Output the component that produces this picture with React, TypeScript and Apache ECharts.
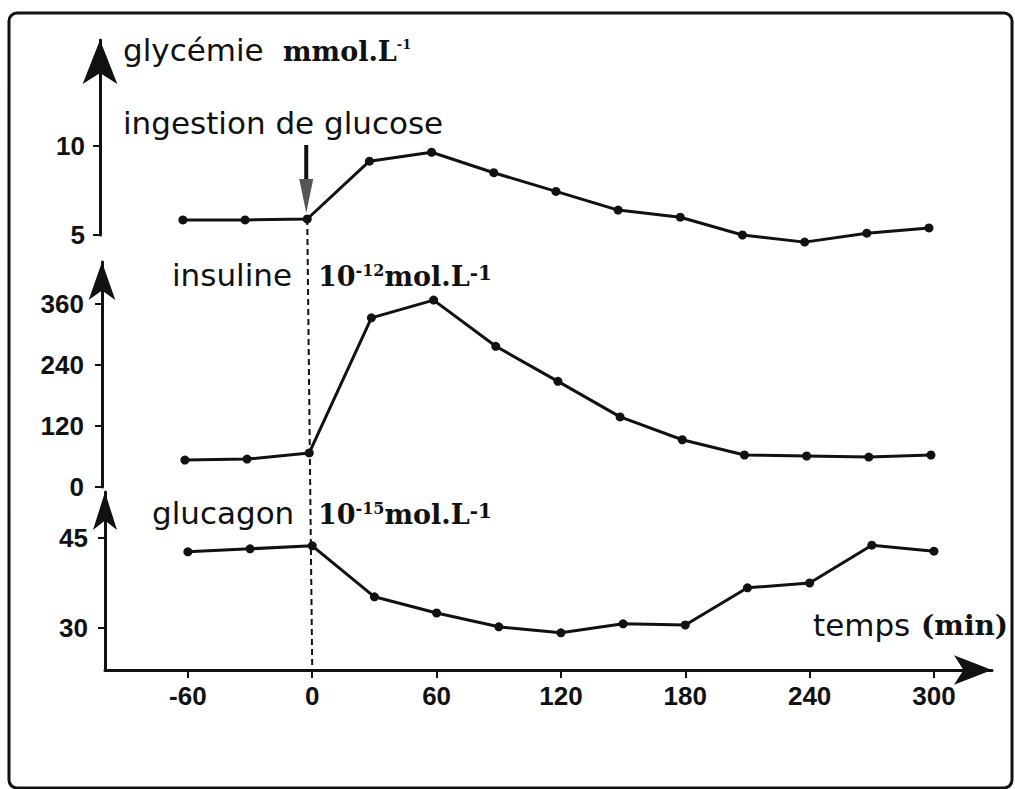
import React, { useEffect, useRef } from 'react';
import * as echarts from 'echarts';

const times = [-60, -30, 0, 30, 60, 90, 120, 150, 180, 210, 240, 270, 300];
const glycemie = [5.85, 5.85, 5.9, 9.15, 9.65, 8.5, 7.45, 6.4, 6.0, 5.0, 4.6, 5.1, 5.4];
const insuline = [53, 55, 67, 333, 368, 277, 208, 138, 93, 63, 61, 59, 63];
const glucagon = [42.7, 43.2, 43.7, 35.2, 32.5, 30.2, 29.2, 30.7, 30.5, 36.7, 37.5, 43.8, 42.8];

const xTicks = [-60, 0, 60, 120, 180, 240, 300];
const glyTicks = [5, 10];
const insTicks = [0, 120, 240, 360];
const gluTicks = [30, 45];

const BLACK = '#111111';
const SANS = '"DejaVu Sans", Verdana, sans-serif';
const SERIF = '"DejaVu Serif", "Liberation Serif", serif';
const NUM = '"Liberation Sans", Arial, sans-serif';

export default function App() {
  const ref = useRef<HTMLDivElement>(null);

  useEffect(() => {
    const chart = echarts.init(ref.current!, null, { renderer: 'svg' });
    const X_MIN = -100;
    const X_MAX = 328;

    const tickLabel = { fontFamily: NUM, fontWeight: 'bold', fontSize: 26, color: BLACK };

    const mkY = (gridIndex: number, min: number, max: number, ticks: number[], arrow: number[], margin: number) => ({
      type: 'value',
      gridIndex,
      min,
      max,
      splitLine: { show: false },
      axisLine: {
        show: true,
        onZero: false,
        symbol: ['none', 'arrow'],
        symbolSize: arrow,
        lineStyle: { color: BLACK, width: 3 },
      },
      axisTick: { show: true, customValues: ticks, length: 7, lineStyle: { width: 2, color: BLACK } },
      axisLabel: { show: true, customValues: ticks, margin, ...tickLabel },
    });

    const mkX = (gridIndex: number, visible: boolean) => ({
      type: 'value',
      gridIndex,
      min: X_MIN,
      max: X_MAX,
      show: visible,
      splitLine: { show: false },
      axisLine: {
        show: visible,
        onZero: false,
        symbol: ['none', 'arrow'],
        symbolSize: [22, 38],
        lineStyle: { color: BLACK, width: 3 },
      },
      axisTick: { show: visible, customValues: xTicks, length: 8, lineStyle: { width: 2, color: BLACK } },
      axisLabel: { show: visible, customValues: xTicks, margin: 13, ...tickLabel },
    });

    const lineSeries = (idx: number, data: number[]) => ({
      type: 'line',
      xAxisIndex: idx,
      yAxisIndex: idx,
      data: times.map((t, i) => [t, data[i]]),
      symbol: 'circle',
      symbolSize: 9,
      clip: false,
      silent: true,
      lineStyle: { color: BLACK, width: 3 },
      itemStyle: { color: BLACK },
    });

    const option: any = {
      animation: false,
      backgroundColor: '#ffffff',
      grid: [
        { left: 100, width: 887, top: 40, height: 195 },
        { left: 102, width: 887, top: 262, height: 225 },
        { left: 105, width: 887, top: 492, height: 178 },
      ],
      xAxis: [mkX(0, false), mkX(1, false), mkX(2, true)],
      yAxis: [
        mkY(0, 5, 15.96, glyTicks, [26, 44], 15),
        mkY(1, 0, 443, insTicks, [20, 38], 18),
        mkY(2, 23, 52.67, gluTicks, [18, 38], 17),
      ],
      series: [lineSeries(0, glycemie), lineSeries(1, insuline), lineSeries(2, glucagon)],
    };
    chart.setOption(option);

    const p0 = chart.convertToPixel({ gridIndex: 0 } as any, [0, glycemie[2]]) as number[];
    const pB = chart.convertToPixel({ gridIndex: 2 } as any, [0, 23]) as number[];

    const T = (text: string, x: number, baseline: number, fs: number, family: string, weight = 'normal') => ({
      type: 'text',
      x,
      y: baseline - 0.33 * fs,
      silent: true,
      style: {
        text,
        fontSize: fs,
        fontFamily: family,
        fontWeight: weight,
        fill: BLACK,
        align: 'left',
        verticalAlign: 'middle',
      },
    });

    const unitRich = {
      b: { fontSize: 27, fontFamily: SERIF, fontWeight: 'bold', fill: BLACK, color: BLACK },
      g: { fontSize: 13, fontFamily: SERIF, fontWeight: 'bold', fill: BLACK, color: BLACK, verticalAlign: 'top' },
      m: { fontSize: 16, fontFamily: SERIF, fontWeight: 'bold', fill: BLACK, color: BLACK, verticalAlign: 'top' },
      t: { fontSize: 20, fontFamily: SERIF, fontWeight: 'bold', fill: BLACK, color: BLACK, verticalAlign: 'top' },
    };
    const U = (text: string, x: number, baseline: number) => ({
      type: 'text',
      x,
      y: baseline - 0.33 * 27,
      silent: true,
      style: {
        text,
        rich: unitRich,
        fontSize: 27,
        fontFamily: SERIF,
        fontWeight: 'bold',
        fill: BLACK,
        align: 'left',
        verticalAlign: 'middle',
      },
    });

    const graphic: any[] = [
      {
        type: 'rect',
        shape: { x: 9, y: 13, width: 1003, height: 775, r: 8 },
        style: { fill: 'none', stroke: BLACK, lineWidth: 3 },
        silent: true,
      },
      {
        type: 'line',
        shape: { x1: p0[0], y1: p0[1], x2: pB[0], y2: pB[1] },
        style: { stroke: BLACK, lineWidth: 2, lineDash: [6, 4] },
        silent: true,
      },
      {
        type: 'line',
        shape: { x1: p0[0] - 1, y1: p0[1] - 74, x2: p0[0] - 1, y2: p0[1] - 38 },
        style: { stroke: BLACK, lineWidth: 4 },
        silent: true,
      },
      {
        type: 'polygon',
        shape: { points: [[p0[0] - 8, p0[1] - 40], [p0[0] + 6, p0[1] - 40], [p0[0] - 1, p0[1] - 6]] },
        style: { fill: '#555555' },
        silent: true,
      },
      T('glycémie', 123, 60, 31, SANS),
      U('{b|mmol.L}{g|-1}', 283, 60),
      T('ingestion de glucose', 123, 133, 31, SANS),
      T('insuline', 172, 285, 31, SANS),
      U('{b|10}{m|-12}{b|mol.L}{t|-1}', 318, 285),
      T('glucagon', 152, 523, 31, SANS),
      U('{b|10}{m|-15}{b|mol.L}{t|-1}', 318, 523),
      T('temps', 813, 635, 31, SANS),
      T('(min)', 921, 635, 28, SERIF, 'bold'),
    ];
    chart.setOption({ graphic });

    return () => chart.dispose();
  }, []);

  return (
    <div
      ref={ref}
      style={{ position: 'absolute', left: 0, top: 0, width: 1015, height: 789, background: '#ffffff' }}
    />
  );
}
